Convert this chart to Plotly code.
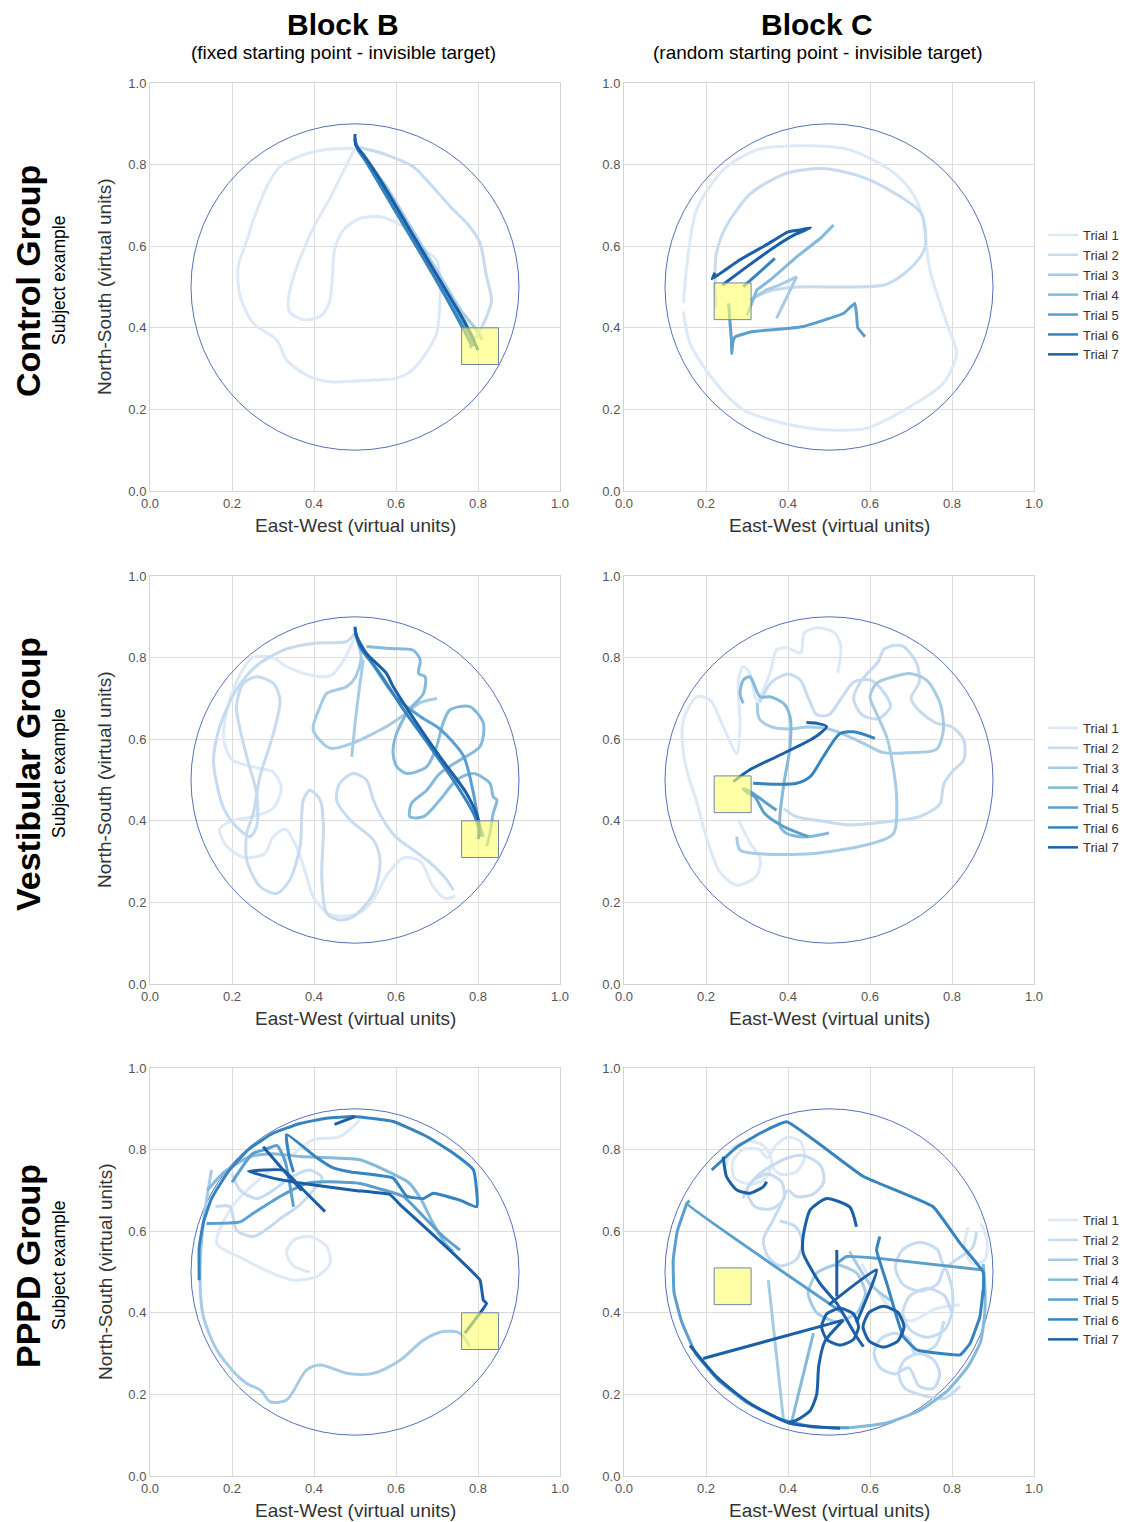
import plotly.graph_objects as go

TRIALS = [f"Trial {i}" for i in range(1, 8)]
COLORS = ['#dde9f6', '#c6dbef', '#a6cbe4', '#83b9da', '#5b9fce', '#3583bf', '#1b5fa6']
TICKS = [0.0, 0.2, 0.4, 0.6, 0.8, 1.0]
TICK_TEXT = ['0.0', '0.2', '0.4', '0.6', '0.8', '1.0']
ROWS = ['Control Group', 'Vestibular Group', 'PPPD Group']
COLS = [('Block B', '(fixed starting point - invisible target)'),
        ('Block C', '(random starting point - invisible target)')]
X_TITLE = 'East-West (virtual units)'
Y_TITLE = 'North-South (virtual units)'
ARENA = (0.5, 0.5, 0.4)                 # centre x, centre y, radius (virtual units)
TARGET_B = (0.76, 0.31, 0.85, 0.40)     # x0, y0, x1, y1
TARGET_C = (0.22, 0.42, 0.31, 0.51)
N = (None, None)

# ---------------- Control group, Block B ----------------
CTRL_B = [
    [(0.50,0.84),(0.47,0.78),(0.44,0.72),(0.40,0.648),(0.37,0.58),(0.35,0.525),(0.337,0.468),(0.34,0.44),(0.36,0.425),
     (0.382,0.419),(0.419,0.431),(0.439,0.468),(0.445,0.53),(0.45,0.59),(0.472,0.64),(0.512,0.668),(0.561,0.672),
     (0.618,0.648),(0.659,0.60),(0.699,0.566),(0.707,0.525),(0.707,0.46),(0.699,0.386),(0.667,0.329),(0.634,0.292),
     (0.60,0.276),(0.545,0.272),(0.44,0.268),(0.382,0.284),(0.333,0.321),(0.309,0.37),(0.252,0.411),(0.22,0.476),
     (0.215,0.55),(0.235,0.61),(0.252,0.664),(0.289,0.754),(0.317,0.795),(0.374,0.824),(0.431,0.837),(0.496,0.84)],
    [(0.50,0.845),(0.54,0.835),(0.577,0.824),(0.642,0.795),(0.675,0.762),(0.73,0.70),(0.78,0.648),(0.805,0.607),
     (0.821,0.525),(0.833,0.468),(0.821,0.427),(0.80,0.385),(0.79,0.37)],
    [(0.50,0.85),(0.53,0.81),(0.58,0.74),(0.64,0.64),(0.70,0.54),(0.76,0.44),(0.80,0.39),(0.81,0.37)],
    [(0.50,0.855),(0.515,0.83),(0.55,0.78),(0.62,0.66),(0.70,0.52),(0.76,0.42),(0.79,0.37),(0.78,0.35)],
    [(0.50,0.86),(0.51,0.835),(0.54,0.79),(0.60,0.69),(0.68,0.55),(0.74,0.45),(0.775,0.39),(0.79,0.355)],
    [(0.50,0.865),(0.505,0.84),(0.525,0.81),(0.59,0.70),(0.67,0.565),(0.73,0.46),(0.765,0.395),(0.785,0.355)],
    [(0.50,0.875),(0.502,0.848),(0.52,0.825),(0.56,0.765),(0.64,0.63),(0.72,0.495),(0.77,0.41),(0.80,0.345)],
]

# ---------------- Control group, Block C ----------------
CTRL_C = [
    [(0.145,0.46),(0.153,0.55),(0.177,0.689),(0.242,0.787),(0.324,0.836),(0.454,0.846),(0.551,0.836),(0.649,0.787),
     (0.698,0.738),(0.726,0.681),(0.746,0.542),(0.787,0.411),(0.811,0.337),(0.779,0.264),(0.698,0.207),(0.592,0.154),
     (0.494,0.150),(0.389,0.166),(0.291,0.199),(0.218,0.272),(0.161,0.362),(0.145,0.44)],
    [(0.31,0.47),(0.355,0.49),(0.42,0.50),(0.535,0.50),(0.635,0.505),(0.68,0.53),(0.72,0.57),(0.735,0.60),(0.725,0.68),
     (0.66,0.73),(0.58,0.77),(0.49,0.79),(0.40,0.78),(0.31,0.73),(0.25,0.65),(0.225,0.58),(0.222,0.50),(0.225,0.45)],
    [(0.372,0.423),(0.40,0.48),(0.421,0.525),(0.38,0.505),(0.348,0.493),(0.307,0.468)],
    [(0.511,0.652),(0.48,0.62),(0.421,0.574),(0.36,0.52),(0.324,0.493),(0.30,0.43)],
    [(0.588,0.378),(0.57,0.40),(0.567,0.435),(0.563,0.46),(0.535,0.435),(0.437,0.403),(0.405,0.399),(0.315,0.391),
     (0.271,0.378),(0.265,0.362),(0.263,0.337),(0.262,0.37),(0.258,0.42),(0.255,0.46)],
    [(0.368,0.57),(0.33,0.535),(0.291,0.501)],
    [(0.24,0.505),(0.30,0.55),(0.37,0.60),(0.42,0.63),(0.455,0.645),(0.43,0.64),(0.40,0.635),(0.35,0.605),
     (0.28,0.565),(0.215,0.52),(0.222,0.535)],
]

# ---------------- Vestibular group, Block B ----------------
VEST_B = [
    [(0.50,0.85),(0.47,0.79),(0.44,0.755),(0.38,0.76),(0.33,0.78),(0.30,0.80),(0.25,0.80),(0.22,0.76),(0.19,0.68),
     (0.18,0.60),(0.20,0.55),(0.26,0.53),(0.30,0.52),(0.32,0.48),(0.30,0.43),(0.25,0.41),(0.20,0.40),(0.17,0.38),
     (0.185,0.34),(0.23,0.31),(0.28,0.32),(0.30,0.36),(0.33,0.38),(0.36,0.33),(0.38,0.27),(0.40,0.21),(0.44,0.17),
     (0.50,0.17),(0.54,0.20),(0.58,0.27),(0.62,0.31),(0.66,0.30),(0.69,0.24),(0.72,0.21),(0.745,0.215)],
    [(0.50,0.86),(0.48,0.84),(0.40,0.835),(0.33,0.82),(0.26,0.78),(0.21,0.72),(0.17,0.63),(0.155,0.55),(0.165,0.48),
     (0.18,0.43),(0.203,0.394),(0.244,0.361),(0.26,0.386),(0.26,0.467),(0.236,0.557),(0.211,0.68),(0.228,0.737),
     (0.26,0.753),(0.301,0.737),(0.317,0.696),(0.301,0.614),(0.268,0.508),(0.252,0.418),(0.236,0.369),(0.236,0.304),
     (0.268,0.239),(0.309,0.222),(0.341,0.255),(0.366,0.337),(0.374,0.451),(0.39,0.475),(0.415,0.451),(0.423,0.386),
     (0.419,0.263),(0.431,0.173),(0.463,0.157),(0.496,0.165),(0.545,0.222),(0.561,0.304),(0.545,0.353),(0.488,0.402),
     (0.455,0.451),(0.463,0.492),(0.496,0.516),(0.528,0.50),(0.545,0.451),(0.57,0.40),(0.60,0.36),(0.64,0.33),
     (0.68,0.30),(0.72,0.26),(0.74,0.23)],
    [(0.50,0.86),(0.515,0.80),(0.50,0.75),(0.48,0.729),(0.431,0.712),(0.415,0.68),(0.398,0.623),(0.439,0.578),
     (0.496,0.591),(0.545,0.614),(0.577,0.631),(0.62,0.66),(0.66,0.69),(0.70,0.70), N,
     (0.52,0.794),(0.504,0.672),(0.492,0.557)],
    [(0.528,0.827),(0.585,0.822),(0.642,0.818),(0.659,0.794),(0.655,0.761),(0.671,0.753),(0.667,0.712),(0.63,0.67),
     (0.60,0.61),(0.593,0.565),(0.602,0.533),(0.626,0.516),(0.675,0.533),(0.699,0.582),(0.715,0.64),(0.732,0.672),
     (0.78,0.68),(0.813,0.639),(0.805,0.582),(0.756,0.549),(0.707,0.516),(0.675,0.475),(0.638,0.443),(0.634,0.41),
     (0.667,0.41),(0.707,0.451),(0.748,0.50),(0.789,0.516),(0.829,0.492),(0.837,0.459),(0.846,0.451),(0.837,0.418),
     (0.829,0.369),(0.821,0.337)],
    [(0.50,0.86),(0.537,0.794),(0.602,0.70),(0.66,0.655),(0.707,0.625),(0.764,0.56),(0.789,0.467),(0.801,0.40),
     (0.813,0.361)],
    [(0.50,0.87),(0.512,0.827),(0.561,0.761),(0.62,0.67),(0.683,0.582),(0.756,0.475),(0.789,0.418),(0.801,0.386),
     (0.805,0.36)],
    [(0.50,0.876),(0.504,0.851),(0.528,0.81),(0.577,0.761),(0.593,0.729),(0.65,0.64),(0.707,0.557),(0.772,0.467),
     (0.801,0.402),(0.801,0.355)],
]

# ---------------- Vestibular group, Block C ----------------
VEST_C = [
    [(0.521,0.763),(0.529,0.828),(0.513,0.861),(0.472,0.873),(0.44,0.861),(0.431,0.812),(0.397,0.824),(0.372,0.819),
     (0.356,0.761),(0.324,0.696),(0.307,0.761),(0.291,0.778),(0.279,0.745),(0.283,0.631),(0.275,0.565),(0.242,0.631),
     (0.21,0.696),(0.177,0.704),(0.145,0.647),(0.145,0.565),(0.16,0.50),(0.177,0.448),(0.195,0.38),(0.21,0.331),
     (0.234,0.274),(0.275,0.242),(0.324,0.266),(0.332,0.307),(0.307,0.347),(0.28,0.40)],
    [(0.33,0.69),(0.36,0.74),(0.40,0.76),(0.43,0.745),(0.45,0.70),(0.47,0.66),(0.50,0.66),(0.53,0.70),(0.56,0.74),
     (0.60,0.745),(0.63,0.72),(0.65,0.68),(0.62,0.65),(0.58,0.66),(0.56,0.70),(0.58,0.745),(0.62,0.79),(0.633,0.819),
     (0.66,0.83),(0.682,0.827),(0.714,0.786),(0.72,0.74),(0.70,0.70),(0.72,0.67),(0.76,0.64),(0.80,0.63),(0.828,0.60),
     (0.829,0.55),(0.80,0.52),(0.78,0.49),(0.77,0.44),(0.72,0.41),(0.66,0.40),(0.55,0.39),(0.48,0.40),(0.42,0.41),
     (0.39,0.43)],
    [(0.275,0.361),(0.283,0.328),(0.332,0.319),(0.454,0.319),(0.60,0.343),(0.657,0.368),(0.665,0.458),(0.655,0.54),
     (0.641,0.605),(0.616,0.663),(0.60,0.704),(0.616,0.737),(0.657,0.753),(0.697,0.761),(0.738,0.745),(0.771,0.688),
     (0.779,0.623),(0.762,0.575),(0.697,0.567),(0.633,0.567),(0.584,0.59),(0.54,0.61),(0.50,0.625),(0.45,0.63),
     (0.40,0.625),(0.36,0.63),(0.33,0.65),(0.325,0.69)],
    [(0.291,0.688),(0.283,0.712),(0.291,0.745),(0.307,0.753),(0.332,0.704),(0.356,0.704),(0.389,0.688),(0.405,0.655),
     (0.405,0.582),(0.389,0.484),(0.381,0.386),(0.397,0.369),(0.44,0.36),(0.50,0.37)],
    [(0.372,0.426),(0.348,0.443),(0.315,0.467),(0.291,0.479),(0.30,0.47),(0.319,0.459),(0.343,0.418),(0.389,0.386),
     (0.45,0.361)],
    [(0.315,0.492),(0.421,0.492),(0.454,0.508),(0.486,0.557),(0.527,0.614),(0.559,0.618),(0.612,0.602)],
    [(0.267,0.496),(0.307,0.525),(0.372,0.557),(0.454,0.598),(0.478,0.614),(0.494,0.631),(0.47,0.639),(0.445,0.641)],
]

# ---------------- PPPD group, Block B ----------------
PPPD_B = [
    [(0.512,0.873),(0.463,0.832),(0.398,0.824),(0.341,0.783),(0.27,0.73),(0.20,0.66),(0.163,0.57),(0.22,0.536),
     (0.285,0.503),(0.35,0.48),(0.407,0.489),(0.439,0.521),(0.431,0.562),(0.39,0.587),(0.35,0.578),(0.333,0.547),
     (0.35,0.515),(0.39,0.50)],
    [(0.16,0.66),(0.195,0.66),(0.211,0.603),(0.252,0.587),(0.325,0.636),(0.36,0.66),(0.398,0.70),(0.42,0.73),
     (0.39,0.75),(0.34,0.73),(0.30,0.70),(0.26,0.68),(0.22,0.70),(0.20,0.74)],
    [(0.15,0.75),(0.13,0.62),(0.122,0.48),(0.13,0.391),(0.163,0.309),(0.211,0.248),(0.236,0.227),(0.27,0.21),
     (0.293,0.182),(0.333,0.186),(0.382,0.26),(0.415,0.272),(0.48,0.252),(0.545,0.252),(0.61,0.284),(0.667,0.333),
     (0.715,0.354),(0.756,0.35),(0.78,0.317)],
    [(0.14,0.70),(0.18,0.744),(0.244,0.783),(0.30,0.79),(0.366,0.783),(0.44,0.78),(0.512,0.775),(0.585,0.744),
     (0.63,0.72),(0.66,0.68),(0.69,0.62),(0.72,0.57),(0.74,0.55)],
    [(0.138,0.619),(0.22,0.623),(0.252,0.644),(0.317,0.685),(0.382,0.717),(0.431,0.721),(0.512,0.717),(0.57,0.701),
     (0.618,0.685),(0.667,0.636),(0.715,0.587),(0.756,0.554), N,
     (0.20,0.72),(0.25,0.79),(0.28,0.80),(0.31,0.81),(0.33,0.77),(0.35,0.66)],
    [(0.12,0.48),(0.12,0.56),(0.13,0.62),(0.15,0.68),(0.19,0.745),(0.24,0.80),(0.30,0.84),(0.366,0.864),(0.431,0.877),
     (0.496,0.881),(0.593,0.869),(0.675,0.832),(0.74,0.791),(0.789,0.75),(0.797,0.66),(0.756,0.676),(0.691,0.693),
     (0.667,0.68),(0.626,0.686),(0.593,0.73),(0.49,0.745),(0.447,0.755),(0.407,0.78),(0.333,0.837),(0.34,0.78),
     (0.35,0.745)],
    [(0.427,0.648),(0.374,0.701),(0.325,0.75),(0.24,0.747),(0.30,0.73),(0.40,0.713),(0.50,0.70),(0.585,0.69),
     (0.615,0.66),(0.67,0.61),(0.74,0.545),(0.805,0.48),(0.813,0.431),(0.821,0.423),(0.805,0.399),(0.768,0.35), N,
     (0.276,0.807),(0.325,0.75),(0.37,0.70), N, (0.45,0.862),(0.50,0.881)],
]

# ---------------- PPPD group, Block C ----------------
PPPD_C = [
    [(0.25,0.76),(0.26,0.80),(0.30,0.82),(0.34,0.81),(0.36,0.77),(0.345,0.73),(0.31,0.715),(0.27,0.73),(0.265,0.77),
     (0.29,0.80),(0.33,0.80),(0.35,0.78),(0.37,0.81),(0.40,0.83),(0.43,0.82),(0.44,0.78),(0.42,0.745),(0.38,0.74),
     (0.36,0.76), N,
     (0.84,0.61),(0.83,0.56),(0.85,0.52),(0.88,0.53),(0.885,0.58),(0.87,0.62), N,
     (0.58,0.52),(0.62,0.45),(0.66,0.40),(0.70,0.38),(0.76,0.41),(0.82,0.42)],
    [(0.29,0.68),(0.31,0.72),(0.35,0.74),(0.385,0.72),(0.39,0.68),(0.36,0.655),(0.32,0.66),(0.30,0.70),(0.33,0.74),
     (0.40,0.78),(0.44,0.785),(0.48,0.76),(0.487,0.72),(0.46,0.69),(0.42,0.685),(0.40,0.70),(0.38,0.66),(0.36,0.62),
     (0.34,0.58),(0.35,0.54),(0.38,0.515),(0.42,0.53),(0.435,0.57),(0.42,0.61),(0.38,0.625), N,
     (0.86,0.60),(0.85,0.56),(0.81,0.53),(0.782,0.513),(0.764,0.555),(0.722,0.573),(0.68,0.555),(0.662,0.513),
     (0.68,0.47),(0.722,0.453),(0.764,0.47),(0.782,0.51),(0.80,0.46),(0.80,0.40),(0.782,0.442),(0.74,0.46),
     (0.698,0.442),(0.68,0.40),(0.698,0.358),(0.74,0.34),(0.782,0.358),(0.80,0.40), N,
     (0.78,0.38),(0.76,0.32),(0.71,0.30),(0.695,0.335),(0.66,0.35),(0.625,0.335),(0.61,0.30),(0.625,0.265),
     (0.66,0.25),(0.695,0.265),(0.72,0.22),(0.755,0.215),(0.77,0.25),(0.755,0.285),(0.72,0.30),(0.685,0.285),
     (0.67,0.25),(0.685,0.215),(0.72,0.20),(0.78,0.19),(0.82,0.22)],
    [(0.589,0.448),(0.568,0.497),(0.519,0.518),(0.47,0.497),(0.449,0.448),(0.47,0.40),(0.519,0.378),(0.568,0.40),
     (0.589,0.448), N, (0.352,0.48),(0.389,0.137), N, (0.55,0.55),(0.60,0.47),(0.65,0.43)],
    [(0.409,0.133),(0.462,0.35), N,
     (0.55,0.118),(0.64,0.13),(0.72,0.16),(0.79,0.21),(0.84,0.27),(0.87,0.33),(0.88,0.40),(0.88,0.47),(0.876,0.52)],
    [(0.16,0.675),(0.153,0.668),(0.535,0.399), N,
     (0.519,0.521),(0.543,0.538),(0.616,0.534),(0.876,0.505), N,
     (0.153,0.668),(0.13,0.60),(0.12,0.53),(0.122,0.45),(0.14,0.38),(0.175,0.30),(0.23,0.235),(0.30,0.18),
     (0.38,0.14),(0.46,0.12),(0.55,0.118)],
    [(0.624,0.587),(0.616,0.554),(0.641,0.472),(0.665,0.39),(0.681,0.342),(0.714,0.309),(0.820,0.297),(0.844,0.325),
     (0.868,0.39),(0.876,0.456), N,
     (0.214,0.75),(0.275,0.806),(0.332,0.84),(0.397,0.868),(0.584,0.734),(0.754,0.66),(0.82,0.57),(0.876,0.50),
     (0.876,0.44)],
    [(0.567,0.611),(0.551,0.659),(0.494,0.680),(0.454,0.652),(0.437,0.587),(0.437,0.546),(0.478,0.472),(0.519,0.423),
     (0.567,0.342),(0.584,0.317), N,
     (0.572,0.366),(0.559,0.398),(0.527,0.411),(0.495,0.398),(0.482,0.366),(0.495,0.334),(0.527,0.321),(0.559,0.334),
     (0.572,0.366), N,
     (0.683,0.366),(0.668,0.401),(0.633,0.416),(0.598,0.401),(0.583,0.366),(0.598,0.331),(0.633,0.316),(0.668,0.331),
     (0.683,0.366), N,
     (0.193,0.288),(0.535,0.382), N,
     (0.50,0.42),(0.616,0.505),(0.600,0.456),(0.567,0.376), N,
     (0.519,0.554),(0.519,0.44), N,
     (0.535,0.382),(0.49,0.33),(0.475,0.27),(0.47,0.20),(0.454,0.16),(0.421,0.137),(0.40,0.13), N,
     (0.161,0.32),(0.226,0.243),(0.307,0.178),(0.405,0.129),(0.527,0.117), N,
     (0.242,0.783),(0.25,0.734),(0.275,0.701),(0.307,0.693),(0.340,0.709),(0.348,0.721)],
]

PANELS = [[CTRL_B, CTRL_C], [VEST_B, VEST_C], [PPPD_B, PPPD_C]]
SMOOTH = [[[0.8]*7, [0.8, 0.8, 0, 0, 0.3, 0, 0.3]],
          [[0.8]*7, [0.8]*7],
          [[0.8, 0.8, 0.8, 0.6, 0.5, 0.4, 0.3], [0.8, 0.8, 0.6, 0.5, 0.3, 0.3, 0.6]]]

# ---------------- layout geometry ----------------
# The page adds an 8 px body margin, so the figure is sized to fill the rest of the 1129x1522 view.
PAGE_W, PAGE_H, BODY = 1129, 1522, 8
W, H = PAGE_W - BODY, PAGE_H - BODY


def px(s):   # screen x -> paper fraction
    return (s - BODY) / W


def py(s):   # screen y -> paper fraction
    return 1 - (s - BODY) / H


X_PIX = [(150, 560), (624, 1034)]
Y_PIX = [(83, 491), (576, 984), (1068, 1476)]
TITLE_FONT = 'Liberation Sans, Arial, sans-serif'
BODY_FONT = 'Liberation Sans, Arial, sans-serif'

fig = go.Figure()
layout = dict(width=W, height=H, margin=dict(l=0, r=0, t=0, b=0, pad=0, autoexpand=False),
              paper_bgcolor='white', plot_bgcolor='white', showlegend=True,
              font=dict(family=BODY_FONT, color='#333333'))
shapes, annotations = [], []

for r in range(3):
    for c in range(2):
        idx = r * 2 + c + 1
        xn = 'x' if idx == 1 else f'x{idx}'
        yn = 'y' if idx == 1 else f'y{idx}'
        ax_common = dict(range=[0, 1], showgrid=True, gridcolor='#dcdcdc', gridwidth=1,
                         showline=True, linecolor='#d4d4d4', linewidth=1, mirror=True,
                         zeroline=False, ticks='', tickvals=TICKS, ticktext=TICK_TEXT, automargin=False,
                         tickfont=dict(size=13, color='#555555', family=BODY_FONT), fixedrange=True)
        layout[f'xaxis{idx}'] = dict(ax_common, domain=[px(X_PIX[c][0]), px(X_PIX[c][1])], anchor=yn)
        layout[f'yaxis{idx}'] = dict(ax_common, domain=[py(Y_PIX[r][1]), py(Y_PIX[r][0])], anchor=xn)

        for t in range(7):
            pts = PANELS[r][c][t]
            sm = SMOOTH[r][c][t]
            line = dict(color=COLORS[t], width=3)
            if sm > 0:
                line.update(shape='spline', smoothing=sm)
            fig.add_trace(go.Scatter(x=[p[0] for p in pts], y=[p[1] for p in pts], mode='lines',
                                     line=line, xaxis=xn, yaxis=yn, showlegend=False,
                                     hoverinfo='skip', connectgaps=False))

        cx, cy, rad = ARENA
        shapes.append(dict(type='circle', xref=xn, yref=yn, x0=cx - rad, x1=cx + rad, y0=cy - rad, y1=cy + rad,
                           line=dict(color='#5572b8', width=1), layer='between'))
        tx0, ty0, tx1, ty1 = TARGET_B if c == 0 else TARGET_C
        shapes.append(dict(type='rect', xref=xn, yref=yn, x0=tx0, x1=tx1, y0=ty0, y1=ty1,
                           fillcolor='rgba(255,255,110,0.62)', line=dict(color='#6f86a8', width=1), layer='above'))

        # axis titles
        annotations.append(dict(text=X_TITLE, xref='paper', yref='paper',
                                x=px((X_PIX[c][0] + X_PIX[c][1]) / 2), y=py(Y_PIX[r][1] + 34),
                                showarrow=False, xanchor='center', yanchor='middle',
                                font=dict(size=19, color='#333333', family=BODY_FONT)))
        if c == 0:
            annotations.append(dict(text=Y_TITLE, xref='paper', yref='paper', textangle=-90,
                                    x=px(105), y=py((Y_PIX[r][0] + Y_PIX[r][1]) / 2),
                                    showarrow=False, xanchor='center', yanchor='middle',
                                    font=dict(size=19, color='#333333', family=BODY_FONT)))

    # legend for the row
    lg = 'legend' if r == 0 else f'legend{r + 1}'
    for t in range(7):
        fig.add_trace(go.Scatter(x=[None], y=[None], mode='lines', name=TRIALS[t],
                                 line=dict(color=COLORS[t], width=2.5),
                                 xaxis='x' if r == 0 else f'x{r * 2 + 1}',
                                 yaxis='y' if r == 0 else f'y{r * 2 + 1}',
                                 legend=lg, showlegend=True, hoverinfo='skip'))
    layout[lg] = dict(x=px(1043), y=py(Y_PIX[r][0] + 137), xanchor='left', yanchor='top',
                      bgcolor='rgba(0,0,0,0)', borderwidth=0, tracegroupgap=0, itemwidth=30,
                      font=dict(size=13, color='#333333', family=BODY_FONT))

    # row labels
    yc = py((Y_PIX[r][0] + Y_PIX[r][1]) / 2 - 6)
    annotations.append(dict(text=f'<b>{ROWS[r]}</b>', xref='paper', yref='paper', textangle=-90,
                            x=px(28), y=yc, showarrow=False, xanchor='center', yanchor='middle',
                            font=dict(size=34, color='#000000', family=TITLE_FONT)))
    annotations.append(dict(text='Subject example', xref='paper', yref='paper', textangle=-90,
                            x=px(59), y=yc, showarrow=False, xanchor='center', yanchor='middle',
                            font=dict(size=17.5, color='#000000', family=TITLE_FONT)))

# column titles
for c in range(2):
    xc = px((X_PIX[c][0] + X_PIX[c][1]) / 2 - 12)
    annotations.append(dict(text=f'<b>{COLS[c][0]}</b>', xref='paper', yref='paper', x=xc, y=py(24),
                            showarrow=False, xanchor='center', yanchor='middle',
                            font=dict(size=30, color='#000000', family=TITLE_FONT)))
    annotations.append(dict(text=COLS[c][1], xref='paper', yref='paper', x=xc, y=py(53),
                            showarrow=False, xanchor='center', yanchor='middle',
                            font=dict(size=19, color='#000000', family=TITLE_FONT)))

layout['shapes'] = shapes
layout['annotations'] = annotations
fig.update_layout(**layout)
fig.write_html('out.html')
